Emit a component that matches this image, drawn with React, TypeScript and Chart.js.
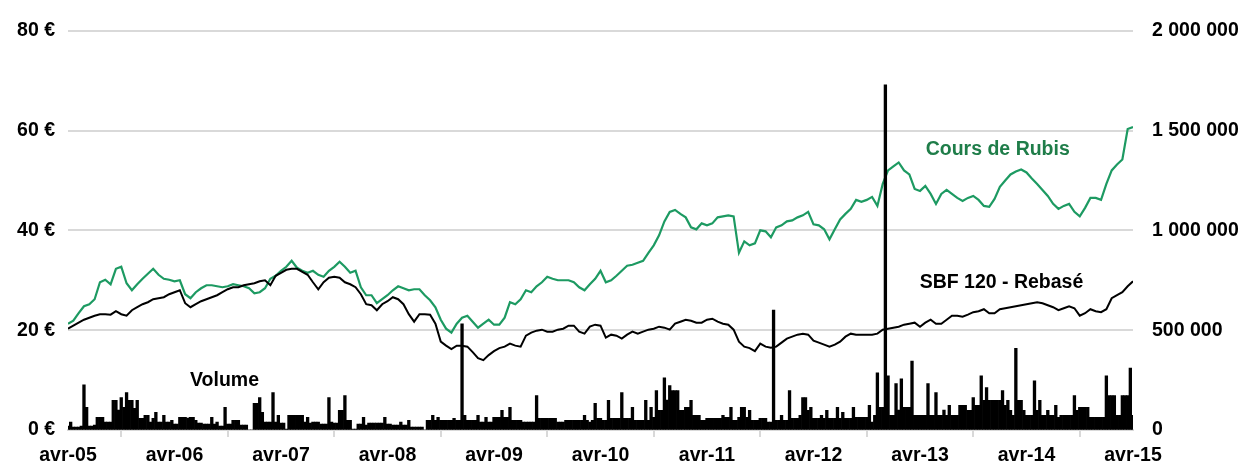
import React, { useEffect, useRef } from "react";
import { Chart, registerables } from "chart.js";

Chart.register(...registerables);

// x ticks: one label per year
const yearLabels = ["avr-05", "avr-06", "avr-07", "avr-08", "avr-09", "avr-10", "avr-11", "avr-12", "avr-13", "avr-14", "avr-15"];
const samplesPerYear = 20; // price samples per year
const volumePerYear = 40;  // volume samples per year

// Cours de Rubis (€), ~every 2.6 weeks from avr-05 to avr-15
const rubis = [
  21.3, 21.9, 23.4, 24.8, 25.2, 26.2, 29.6, 30.1, 29.2, 32.3,
  32.7, 29.4, 28.0, 29.2, 30.3, 31.3, 32.3, 31.1, 30.3, 30.1,
  29.8, 30.0, 27.2, 26.4, 27.6, 28.4, 29.0, 29.0, 28.8, 28.6,
  28.8, 29.2, 29.0, 28.8, 28.4, 27.4, 27.6, 28.4, 30.3, 30.9,
  31.9, 32.7, 33.9, 32.5, 31.9, 31.5, 31.9, 31.1, 30.7, 31.9,
  32.7, 33.7, 32.7, 31.5, 31.9, 28.6, 27.0, 27.0, 25.4, 26.2,
  27.0, 28.0, 28.8, 28.4, 28.0, 28.2, 28.2, 27.0, 26.0, 24.6,
  22.1, 20.3, 19.5, 21.3, 22.5, 22.9, 21.7, 20.5, 21.3, 22.1,
  21.1, 21.1, 22.5, 25.6, 25.2, 26.2, 28.0, 27.6, 28.8, 29.6,
  30.7, 30.3, 30.0, 30.0, 30.0, 29.6, 28.6, 28.0, 29.2, 30.3,
  31.9, 29.6, 30.0, 30.9, 31.9, 32.9, 33.1, 33.5, 33.9, 35.5,
  37.0, 39.0, 41.8, 43.7, 44.1, 43.3, 42.6, 40.6, 40.2, 41.4,
  41.0, 41.4, 42.6, 42.8, 43.0, 42.8, 35.5, 37.8, 37.0, 37.4,
  40.0, 39.8, 38.6, 40.6, 41.0, 41.8, 42.0, 42.6, 43.0, 43.7,
  41.2, 41.0, 40.2, 38.2, 40.2, 42.2, 43.3, 44.3, 46.1, 45.7,
  46.1, 46.7, 44.9, 49.3, 52.0, 52.8, 53.6, 52.0, 51.2, 48.3,
  47.9, 48.9, 47.3, 45.3, 47.3, 48.1, 47.3, 46.5, 45.9, 46.5,
  46.9, 46.1, 44.9, 44.7, 46.3, 48.7, 50.0, 51.2, 51.8, 52.2,
  51.6, 50.4, 49.3, 48.1, 46.9, 45.3, 44.3, 44.9, 45.3, 43.7,
  42.8, 44.5, 46.5, 46.5, 46.1, 49.3, 52.0, 53.2, 54.2, 60.3,
  60.7,
];

// SBF 120 rebasé (€)
const sbf120 = [
  20.3, 20.9, 21.5, 22.1, 22.5, 22.9, 23.2, 23.2, 23.1, 23.8,
  23.2, 22.9, 24.0, 24.6, 25.2, 25.6, 26.2, 26.4, 26.6, 27.2,
  27.6, 28.0, 25.4, 24.6, 25.2, 25.8, 26.2, 26.6, 27.0, 27.6,
  28.2, 28.6, 28.6, 29.0, 29.2, 29.4, 29.8, 30.0, 29.0, 30.9,
  31.5, 32.1, 32.3, 32.3, 31.7, 31.1, 29.6, 28.2, 29.6, 30.5,
  30.7, 30.5, 29.6, 29.2, 28.6, 27.2, 25.2, 25.0, 24.0, 25.2,
  25.8, 26.6, 26.2, 25.2, 23.2, 21.7, 23.2, 23.2, 23.1, 21.3,
  17.7, 16.9, 16.2, 16.9, 16.9, 16.7, 15.6, 14.4, 14.0, 15.0,
  15.8, 16.4, 16.7, 17.3, 16.9, 16.7, 18.9, 19.5, 19.9, 20.1,
  19.7, 19.7, 20.1, 20.3, 20.9, 20.9, 19.7, 19.3, 20.7, 21.1,
  20.9, 18.5, 19.1, 18.9, 18.3, 19.1, 19.7, 19.3, 19.7, 20.1,
  20.3, 20.7, 20.5, 20.1, 21.3, 21.7, 22.1, 21.9, 21.5, 21.5,
  22.1, 22.3, 21.7, 21.3, 21.1, 20.1, 17.7, 16.7, 16.4, 15.8,
  17.3, 16.7, 16.5, 16.7, 17.5, 18.3, 18.7, 19.1, 19.3, 19.1,
  17.9, 17.5, 17.1, 16.7, 17.1, 17.7, 18.7, 19.3, 19.1, 19.1,
  19.1, 19.1, 19.3, 20.1, 20.3, 20.5, 20.7, 21.1, 21.3, 21.5,
  20.7, 21.5, 22.1, 21.3, 21.3, 22.1, 22.9, 22.9, 22.7, 23.1,
  23.6, 23.8, 24.2, 23.4, 23.4, 24.2, 24.4, 24.6, 24.8, 25.0,
  25.2, 25.4, 25.6, 25.4, 25.0, 24.6, 24.0, 24.4, 24.8, 24.4,
  22.9, 23.4, 24.2, 23.8, 23.6, 24.2, 26.4, 27.0, 27.6, 28.8,
  29.8,
];

// Volume (thousands of shares), ~every 9 days
const volumeK = [
  20, 40, 15, 15, 15, 20, 226, 113, 20, 20, 25, 64, 64, 64, 40, 40, 40, 148, 148, 100,
  163, 113, 187, 148, 148, 108, 148, 59, 59, 74, 74, 40, 59, 89, 40, 40, 74, 40, 40, 49,
  30, 30, 64, 64, 64, 60, 64, 64, 49, 35, 35, 30, 30, 30, 64, 30, 40, 20, 20, 113,
  30, 30, 49, 49, 49, 25, 25, 25, 0, 0, 133, 133, 163, 89, 40, 40, 40, 187, 40, 74,
  35, 35, 5, 74, 74, 74, 74, 74, 74, 40, 64, 35, 40, 40, 40, 30, 30, 30, 163, 40,
  35, 35, 99, 99, 172, 49, 49, 5, 5, 30, 30, 64, 25, 35, 35, 35, 35, 35, 35, 64,
  30, 30, 25, 25, 25, 40, 25, 25, 49, 15, 15, 15, 15, 15, 0, 49, 49, 74, 49, 64,
  49, 49, 49, 49, 49, 59, 49, 49, 532, 74, 49, 49, 49, 49, 74, 40, 40, 64, 40, 40,
  64, 64, 64, 99, 64, 64, 113, 49, 49, 49, 49, 40, 40, 40, 40, 40, 172, 59, 59, 59,
  59, 59, 59, 59, 40, 40, 40, 49, 49, 49, 49, 49, 49, 49, 74, 49, 40, 49, 133, 59,
  59, 49, 49, 148, 59, 59, 59, 59, 187, 59, 59, 59, 113, 49, 49, 49, 49, 148, 49, 113,
  64, 197, 99, 99, 261, 150, 222, 197, 197, 197, 99, 99, 113, 113, 148, 74, 74, 74, 49, 49,
  59, 59, 59, 59, 59, 59, 74, 64, 64, 113, 49, 49, 64, 113, 113, 64, 99, 49, 49, 49,
  59, 59, 59, 40, 40, 601, 49, 49, 74, 49, 49, 197, 59, 59, 59, 74, 163, 163, 99, 113,
  59, 59, 59, 74, 59, 99, 59, 59, 59, 113, 59, 89, 59, 59, 59, 113, 64, 64, 64, 64,
  64, 123, 40, 74, 286, 113, 113, 1729, 271, 74, 74, 232, 100, 256, 113, 113, 113, 345, 74, 74,
  74, 74, 74, 232, 74, 74, 187, 74, 74, 100, 74, 123, 74, 74, 74, 123, 123, 123, 99, 99,
  163, 123, 123, 271, 148, 212, 148, 148, 148, 148, 148, 197, 123, 148, 99, 74, 409, 148, 148, 99,
  74, 74, 74, 246, 99, 148, 74, 74, 99, 74, 74, 123, 64, 74, 74, 74, 74, 74, 172, 99,
  113, 113, 113, 113, 64, 64, 64, 64, 64, 64, 271, 172, 172, 172, 74, 74, 172, 172, 172, 310,
  74,
];

const GREEN_LINE = "#1d9a62";
const GREEN_TEXT = "#1f7d49";
const GRID = "#d9d9d9";
const FONT = '"Liberation Sans", Arial, sans-serif';

const fmtThousands = (n: number) => String(Math.round(n)).replace(/\B(?=(\d{3})+(?!\d))/g, " ");

const annotations = [
  { text: "Cours de Rubis", x: 174.6, y: 56.2, color: GREEN_TEXT },
  { text: "SBF 120 - Rebasé", x: 175.3, y: 29.6, color: "#000000" },
  { text: "Volume", x: 29.4, y: 9.85, color: "#000000" },
];

const annotationPlugin = {
  id: "seriesAnnotations",
  afterDatasetsDraw(chart: any) {
    const { ctx, scales } = chart;
    ctx.save();
    ctx.textAlign = "center";
    ctx.textBaseline = "middle";
    ctx.font = `bold 19.5px ${FONT}`;
    for (const a of annotations) {
      ctx.fillStyle = a.color;
      ctx.fillText(a.text, scales.x.getPixelForValue(a.x), scales.y.getPixelForValue(a.y));
    }
    ctx.restore();
  },
};

export default function App() {
  const ref = useRef<HTMLCanvasElement>(null);

  useEffect(() => {
    if (!ref.current) return;
    const toXY = (arr: number[], perYear: number, k = 1) =>
      arr.map((v, i) => ({ x: (i * samplesPerYear) / perYear, y: v * k }));
    const tickFont = { family: FONT, size: 19.5, weight: "bold" as const };
    const chart = new Chart(ref.current, {
      type: "line",
      data: {
        datasets: [
          {
            type: "bar",
            label: "Volume",
            data: toXY(volumeK, volumePerYear, 1000),
            yAxisID: "y1",
            backgroundColor: "#000000",
            borderWidth: 0,
            barPercentage: 1,
            categoryPercentage: 1,
            order: 0,
          } as any,
          {
            type: "line",
            label: "SBF 120 - Rebasé",
            data: toXY(sbf120, samplesPerYear),
            yAxisID: "y",
            borderColor: "#000000",
            borderWidth: 2,
            pointRadius: 0,
            tension: 0,
            order: 1,
          },
          {
            type: "line",
            label: "Cours de Rubis",
            data: toXY(rubis, samplesPerYear),
            yAxisID: "y",
            borderColor: GREEN_LINE,
            borderWidth: 2.2,
            pointRadius: 0,
            tension: 0,
            order: 2,
          },
        ],
      },
      options: {
        responsive: false,
        animation: false,
        layout: { padding: { left: 0, right: 0, top: 24, bottom: 0 } },
        plugins: { legend: { display: false }, tooltip: { enabled: false } },
        scales: {
          x: {
            type: "linear",
            min: 0,
            max: (yearLabels.length - 1) * samplesPerYear,
            offset: false,
            grid: { drawOnChartArea: false, drawTicks: true, tickLength: 7, color: GRID, lineWidth: 2 },
            border: { display: true, color: GRID, width: 2 },
            ticks: {
              stepSize: samplesPerYear,
              autoSkip: false,
              maxRotation: 0,
              padding: 7,
              color: "#000",
              font: tickFont,
              callback: (v: any) => yearLabels[Math.round(Number(v) / samplesPerYear)] ?? "",
            },
            afterFit: (s: any) => { s.height = 35; },
          },
          y: {
            position: "left",
            min: 0,
            max: 80,
            grid: { color: GRID, lineWidth: 2, drawTicks: false },
            border: { display: false },
            ticks: {
              stepSize: 20,
              padding: 13,
              color: "#000",
              font: tickFont,
              callback: (v: any) => `${v} €`,
            },
            afterFit: (s: any) => { s.width = 68; },
          },
          y1: {
            position: "right",
            min: 0,
            max: 2000000,
            grid: { drawOnChartArea: false, drawTicks: false },
            border: { display: false },
            ticks: {
              stepSize: 500000,
              padding: 19,
              color: "#000",
              font: tickFont,
              callback: (v: any) => fmtThousands(Number(v)),
            },
            afterFit: (s: any) => { s.width = 109; },
          },
        },
      },
      plugins: [annotationPlugin],
    } as any);
    return () => chart.destroy();
  }, []);

  return (
    <div style={{ position: "absolute", left: 0, top: 0, width: 1242, height: 465, background: "#ffffff" }}>
      <canvas ref={ref} width={1242} height={465} style={{ display: "block" }} />
    </div>
  );
}
